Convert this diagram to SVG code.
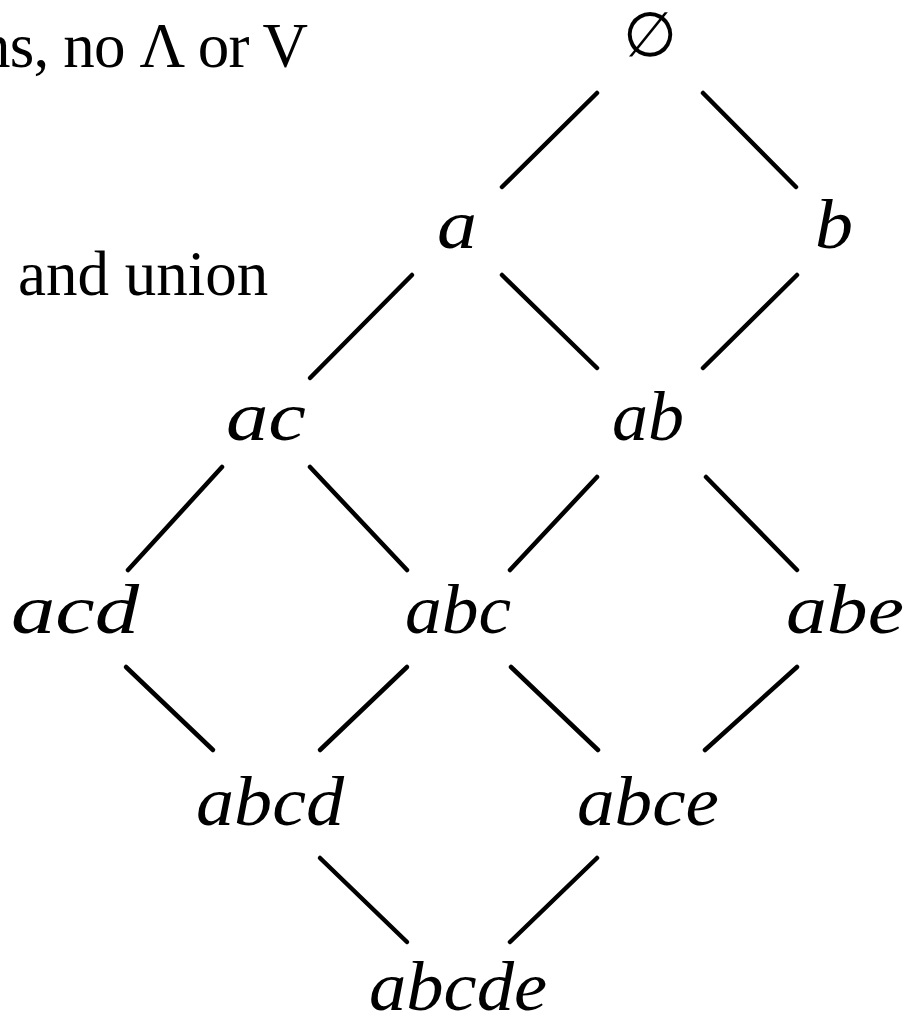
<svg xmlns="http://www.w3.org/2000/svg" width="910" height="1024" viewBox="0 0 910 1024">
<style>
.t{font-family:"Liberation Serif","Times New Roman",serif;font-size:63px;fill:#000}
.n{font-family:"Liberation Serif","Times New Roman",serif;font-style:italic;font-size:70px;fill:#000;text-anchor:middle}
.e{stroke:#000;stroke-width:4.5;stroke-linecap:round;fill:none}
</style>
<rect width="910" height="1024" fill="#fff"/>
<text class="t" x="-21" y="67" textLength="329" lengthAdjust="spacing">ns, no Λ or V</text>
<text class="t" x="18" y="295">and union</text>
<g id="connectors">
<line class="e" x1="597" y1="93" x2="502" y2="187"/>
<line class="e" x1="703" y1="93" x2="796" y2="187"/>
<line class="e" x1="412" y1="275" x2="310" y2="378"/>
<line class="e" x1="502" y1="275" x2="597" y2="368"/>
<line class="e" x1="797" y1="275" x2="703" y2="368"/>
<line class="e" x1="222" y1="467" x2="128" y2="570"/>
<line class="e" x1="310" y1="467" x2="407" y2="570"/>
<line class="e" x1="597" y1="477" x2="510" y2="570"/>
<line class="e" x1="706" y1="477" x2="797" y2="570"/>
<line class="e" x1="126" y1="667" x2="213" y2="750"/>
<line class="e" x1="407" y1="667" x2="320" y2="750"/>
<line class="e" x1="511" y1="667" x2="598" y2="750"/>
<line class="e" x1="797" y1="667" x2="705" y2="750"/>
<line class="e" x1="320" y1="858" x2="407" y2="942"/>
<line class="e" x1="597" y1="858" x2="510" y2="942"/>
</g>
<g id="n-empty"><text x="650" y="56" font-family="DejaVu Sans,sans-serif" font-size="62" text-anchor="middle">∅</text></g>
<g id="n-a"><text class="n" x="457" y="248" textLength="40" lengthAdjust="spacingAndGlyphs">a</text></g>
<g id="n-b"><text class="n" x="834" y="248" textLength="38" lengthAdjust="spacingAndGlyphs">b</text></g>
<g id="n-ac"><text class="n" x="266" y="440" textLength="80" lengthAdjust="spacingAndGlyphs">ac</text></g>
<g id="n-ab"><text class="n" x="648" y="440" textLength="72" lengthAdjust="spacingAndGlyphs">ab</text></g>
<g id="n-acd"><text class="n" x="75" y="633" textLength="128" lengthAdjust="spacingAndGlyphs">acd</text></g>
<g id="n-abc"><text class="n" x="458" y="633" textLength="106" lengthAdjust="spacingAndGlyphs">abc</text></g>
<g id="n-abe"><text class="n" x="845" y="633" textLength="118" lengthAdjust="spacingAndGlyphs">abe</text></g>
<g id="n-abcd"><text class="n" x="270" y="825" textLength="148" lengthAdjust="spacingAndGlyphs">abcd</text></g>
<g id="n-abce"><text class="n" x="648" y="825" textLength="142" lengthAdjust="spacingAndGlyphs">abce</text></g>
<g id="n-abcde"><text class="n" x="458" y="1010" textLength="178" lengthAdjust="spacingAndGlyphs">abcde</text></g>
</svg>
